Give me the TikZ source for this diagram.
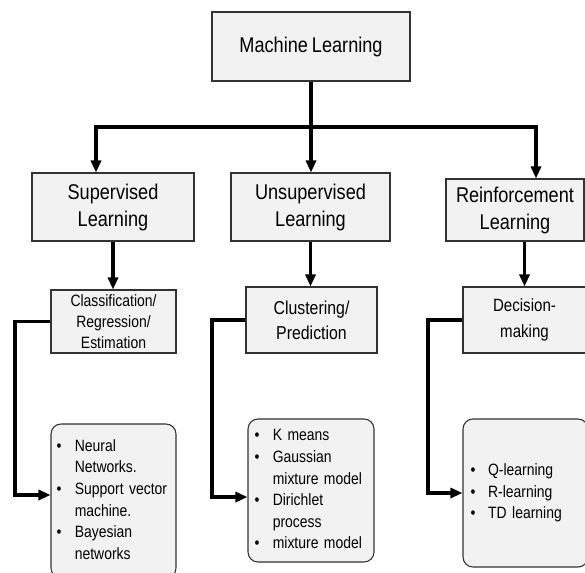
\documentclass[tikz,border=0pt]{standalone}
\usepackage{fontspec}
\setmainfont{Liberation Sans}[FakeStretch=0.85,WordSpace=0.8]
\usetikzlibrary{arrows.meta}
\definecolor{boxgray}{HTML}{F2F2F2}
\newcommand\fsTop{\fontsize{16}{20.25}\selectfont}
\newcommand\fsCls{\fontsize{12.3}{15.75}\selectfont}
\newcommand\fsClu{\fontsize{14}{18.75}\selectfont}
\newcommand\fsDec{\fontsize{13.3}{19.5}\selectfont}
\newcommand\fsLst{\fontsize{12.3}{16.2}\selectfont}
\newcommand\itm{\textbullet}
\begin{document}
\begin{tikzpicture}[x=0.75pt,y=-0.75pt,
  box/.style={draw=black!80,line width=0.8pt,fill=boxgray,inner sep=0pt,align=center},
  lst/.style={box,rounded corners=7.5pt,font=\fsLst},
  conn/.style={line width=2.4pt,black},
  arr/.style={conn,-{Triangle[width=7.5pt,length=9pt]}}]
\useasboundingbox (0,0) rectangle (585,572);
\fill[white] (0,0) rectangle (585,572);
\clip (0,0) rectangle (585,572);

% top
\node[box,minimum width=148.5pt,minimum height=51.75pt,font=\fsTop] (ml) at (311,46.5) {Machine Learning};

% second level
\node[box,minimum width=121.5pt,minimum height=51pt,font=\fsTop] (sup) at (113,207) {Supervised\\Learning};
\node[box,minimum width=119.25pt,minimum height=51pt,font=\fsTop] (unsup) at (310.5,207) {Unsupervised\\Learning};
\node[box,minimum width=103.5pt,minimum height=46.5pt,font=\fsTop] (reinf) at (515,210) {Reinforcement\\Learning};

% third level
\node[box,minimum width=93.75pt,minimum height=47.25pt,font=\fsCls] (cls) at (113.5,321.5) {Classification/\\Regression/\\Estimation};
\node[box,minimum width=98.25pt,minimum height=49.5pt,font=\fsClu] (clu) at (311.5,320) {Clustering/\\Prediction};
\node[box,minimum width=92.25pt,minimum height=49.5pt,font=\fsDec] (dec) at (524.5,320) {Decision-\\making};

% lists
\node[lst,minimum width=93.75pt,minimum height=115.5pt,text width=85.35pt,inner xsep=4.2pt,align=left] (l1) at (113.5,501)
  {\begin{tabular}{@{}l@{\hspace{10pt}}l@{}}\itm&Neural\\&Networks.\\\itm&Support vector\\&machine.\\\itm&Bayesian\\&networks\end{tabular}};
\node[lst,minimum width=94.5pt,minimum height=107.25pt,text width=84.6pt,inner xsep=4.95pt,align=left] (l2) at (311,490.5)
  {\begin{tabular}{@{}l@{\hspace{10pt}}l@{}}\itm&K means\\\itm&Gaussian\\&mixture model\\\itm&Dirichlet\\&process\\\itm&mixture model\end{tabular}};
\node[lst,minimum width=93.75pt,minimum height=111pt,text width=82.35pt,inner xsep=5.7pt,align=left] (l3) at (525.5,493)
  {\begin{tabular}{@{}l@{\hspace{9.5pt}}l@{}}\itm&Q-learning\\\itm&R-learning\\\itm&TD learning\end{tabular}};

% connectors from the top
\coordinate (bar) at (311,127);
\coordinate (jL) at (96,127);
\coordinate (jR) at (536,127);
\draw[conn] (ml.south) -- (bar);
\draw[arr] (bar) -- (jL) -- (jL |- sup.north);
\draw[arr] (bar) -- (bar |- unsup.north);
\draw[arr] (bar) -- (jR) -- (jR |- reinf.north);

% second to third level
\draw[arr] (sup.south) -- (sup.south |- cls.north);
\draw[arr] (unsup.south) -- (unsup.south |- clu.north);
\draw[arr] (reinf.south -| dec.north) -- (dec.north);

% third level to lists
\coordinate (k1) at (15,0);
\coordinate (k2) at (212,0);
\coordinate (k3) at (428,0);
\draw[arr] (cls.west) -- (cls.west -| k1) |- ([yshift=4.5pt]l1.west);
\draw[arr] (clu.west) -- (clu.west -| k2) |- ([yshift=-4.9pt]l2.west);
\draw[arr] (dec.west) -- (dec.west -| k3) |- (l3.west);
\end{tikzpicture}
\end{document}
